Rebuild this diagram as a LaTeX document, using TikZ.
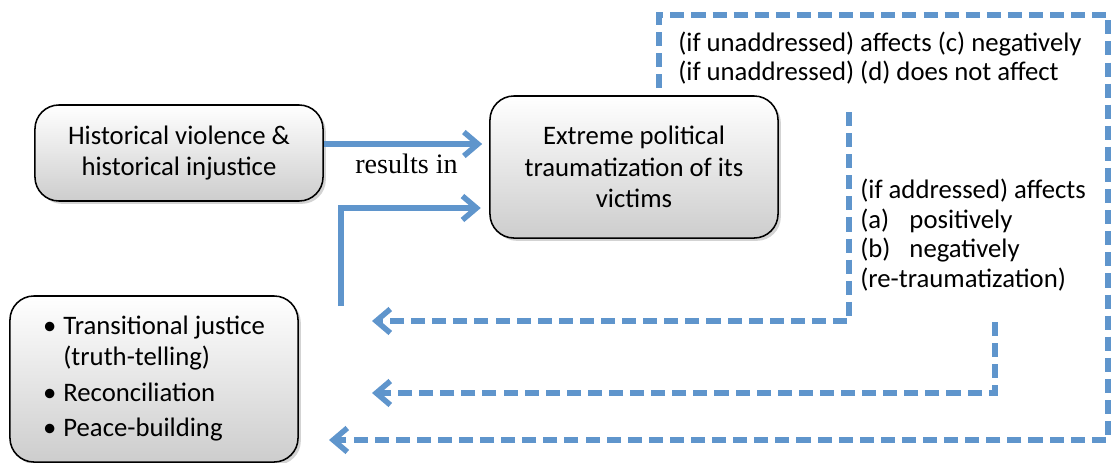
\documentclass[tikz,border=0pt]{standalone}
\usepackage{fontspec}
\setmainfont{Carlito}
\newfontfamily\labelserif{Liberation Serif}
\usepackage{tikz}
\usetikzlibrary{arrows.meta,shadows}
\definecolor{flowBlue}{HTML}{5F95CC}
\definecolor{boxShade}{HTML}{CDCDCD}

\begin{document}
\begin{tikzpicture}[
        x=0.025cm, y=-0.025cm,
        font=\fontsize{19}{22.5}\selectfont,
        stage/.style={draw=black, line width=1.1pt, rounded corners=0.6cm, top color=white, bottom color=boxShade, minimum width=7.2cm, align=center, drop shadow={shadow xshift=2pt, shadow yshift=-2pt, opacity=0.35}},
        flow/.style={draw=flowBlue, line width=3.9pt, -{Straight Barb[length=10pt, width=17pt]}},
        feedback/.style={flow, dash pattern=on 10pt off 5pt},
        note/.style={align=left, anchor=west, inner sep=0pt, font=\fontsize{19}{21}\selectfont}
    ]
        \useasboundingbox (0,0) rectangle (1111,462);

        % --- the three boxes ---
        \node[stage, minimum height=2.4cm] (hist) at (179,153) {Historical violence \&\\historical injustice};
        \node[stage, minimum height=3.55cm] (trauma) at (634,167) {Extreme political\\traumatization of its\\victims};
        \node[stage, minimum height=4.15cm, font=\fontsize{19}{22}\selectfont] (peace) at (154,379) {%
            \begin{tabular}{@{}l@{\hspace{5pt}}l@{}}
                \textbullet & Transitional justice\\
                            & (truth-telling)\\[4pt]
                \textbullet & Reconciliation\\[2.5pt]
                \textbullet & Peace-building
            \end{tabular}};

        % --- solid arrows into the trauma box ---
        \draw[flow, shorten >=5pt] (hist.east |- 0,144) -- (trauma.west |- 0,144)
            node[midway, below=2pt, font=\labelserif\fontsize{20}{22}\selectfont] (resultLbl) {results in};
        \coordinate (loopStart) at (341,306);
        \draw[flow, shorten >=6pt] (loopStart) |- (trauma.west |- 0,208);

        % --- dashed feedback lines back to the peace box ---
        \coordinate (fbOneTop) at (849,112);
        \coordinate (fbOneEnd) at (372,321);
        \draw[feedback] (fbOneTop) |- (fbOneEnd);

        \coordinate (fbTwoTop) at (995,322);
        \coordinate (fbTwoEnd) at (372,393);
        \draw[feedback] (fbTwoTop) |- (fbTwoEnd);

        \coordinate (fbThreeTop) at (659,88);
        \coordinate (fbThreeCorner) at (1108,15);
        \coordinate (fbThreeEnd) at (329,440);
        \draw[feedback] (fbThreeTop) |- (fbThreeCorner) |- (fbThreeEnd);

        % --- labels on the feedback lines ---
        \node[note] (unaddr) at (678,58) {(if unaddressed) affects (c) negatively\\(if unaddressed) (d) does not affect};
        \node[note] (addr) at (860,235) {(if addressed) affects\\\makebox[35pt][l]{(a)}positively\\\makebox[35pt][l]{(b)}negatively\\(re-traumatization)};
    \end{tikzpicture}
\end{document}
